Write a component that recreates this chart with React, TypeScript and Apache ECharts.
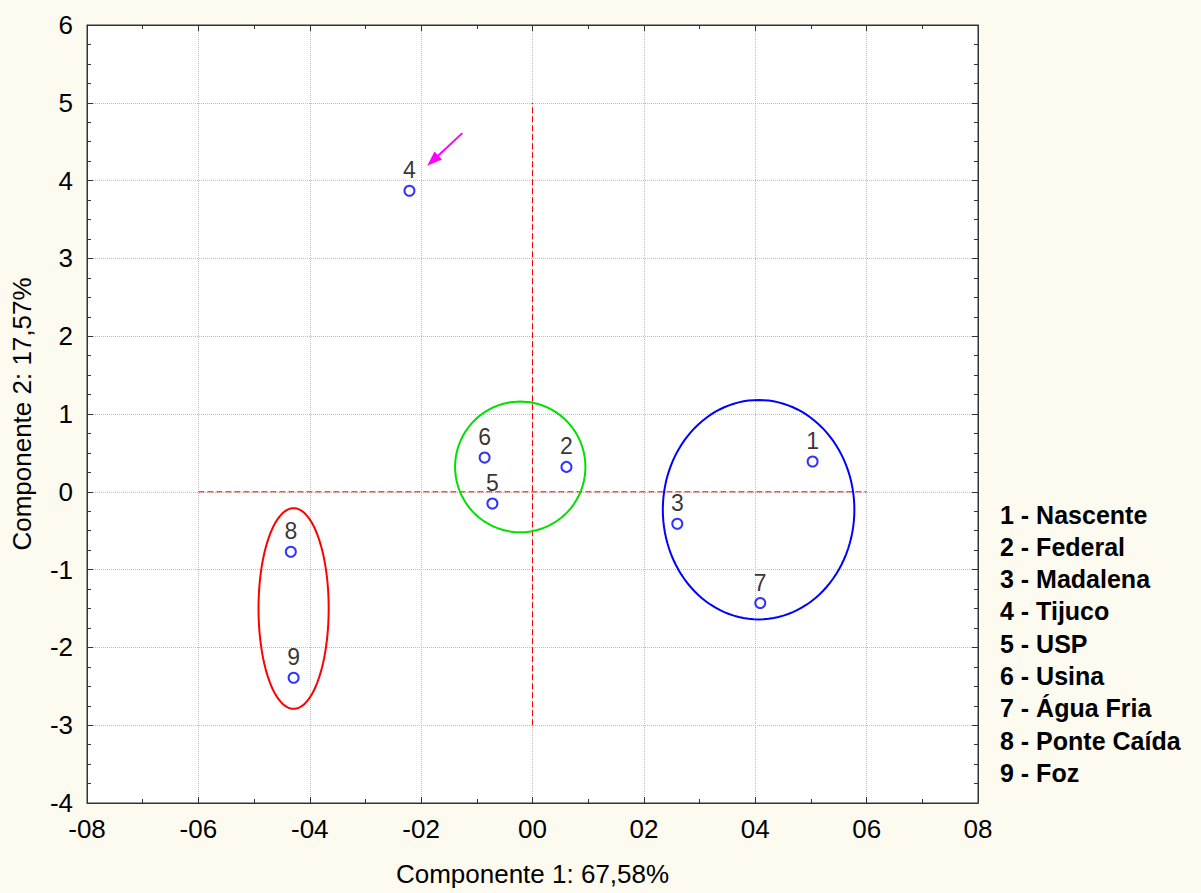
import React, { useEffect, useRef } from "react";
import * as echarts from "echarts";

// Site scores on the first two principal components
const siteIds = ["1", "2", "3", "4", "5", "6", "7", "8", "9"];
const siteNames = [
  "Nascente",
  "Federal",
  "Madalena",
  "Tijuco",
  "USP",
  "Usina",
  "Água Fria",
  "Ponte Caída",
  "Foz",
];
const comp1 = [5.03, 0.61, 2.6, -2.21, -0.72, -0.86, 4.09, -4.34, -4.29];
const comp2 = [0.39, 0.32, -0.41, 3.87, -0.15, 0.44, -1.43, -0.77, -2.39];

// Group ellipses: centre x, centre y, radius x, radius y
const groupCx = [-0.22, 4.06, -4.29];
const groupCy = [0.32, -0.23, -1.5];
const groupRx = [1.17, 1.72, 0.63];
const groupRy = [0.84, 1.41, 1.29];
const groupColors = ["#00e000", "#0000ff", "#ff0000"];

// Arrow pointing at site 4: start (x, y) -> end (x, y)
const arrowFrom = [-1.26, 4.61];
const arrowTo = [-1.89, 4.19];

// Reference axes through the origin
const hLine = [
  [-6, 0],
  [6, 0],
];
const vLine = [
  [0, -3],
  [0, 5],
];

const xTitle = "Componente 1: 67,58%";
const yTitle = "Componente 2: 17,57%";

const fmtX = (v: number) => {
  const a = Math.abs(Math.round(v));
  return (v < 0 ? "-" : "") + (a < 10 ? "0" + a : String(a));
};

const FONT = "'Liberation Sans', Arial, sans-serif";

export default function App() {
  const ref = useRef<HTMLDivElement>(null);

  useEffect(() => {
    if (!ref.current) return;
    const chart = echarts.init(ref.current, null, { renderer: "svg" });

    const baseX = {
      type: "value" as const,
      min: -8,
      max: 8,
      interval: 2,
      axisLine: { show: true, onZero: false, lineStyle: { color: "#333", width: 1 } },
      axisTick: { show: true, inside: true, length: 6, lineStyle: { color: "#333" } },
      minorTick: { show: true, splitNumber: 2, length: 4, lineStyle: { color: "#333" } },
    };
    const baseY = {
      type: "value" as const,
      min: -4,
      max: 6,
      interval: 1,
      axisLine: { show: true, onZero: false, lineStyle: { color: "#333", width: 1 } },
      axisTick: { show: true, inside: true, length: 6, lineStyle: { color: "#333" } },
      minorTick: { show: true, splitNumber: 4, length: 4, lineStyle: { color: "#333" } },
    };

    const legendItems = siteNames.map((n, i) => ({
      type: "text",
      left: 1000,
      top: 502 + i * 32.3,
      style: {
        text: `${siteIds[i]} - ${n}`,
        font: `bold 25px ${FONT}`,
        fill: "#000",
      },
    }));

    chart.setOption({
      animation: false,
      backgroundColor: "#fdfbf0",
      textStyle: { fontFamily: FONT },
      grid: {
        left: 87,
        top: 25,
        right: 223,
        bottom: 90,
        show: true,
        backgroundColor: "#ffffff",
        borderColor: "#333",
        borderWidth: 1,
      },
      xAxis: [
        {
          ...baseX,
          position: "bottom",
          name: xTitle,
          nameLocation: "middle",
          nameGap: 58,
          nameTextStyle: { fontSize: 26, color: "#000", fontFamily: FONT },
          axisLabel: { show: true, fontSize: 26, color: "#000", margin: 13, formatter: fmtX, fontFamily: FONT },
          splitLine: { show: true, lineStyle: { color: "#bdbdbd", type: "dotted", width: 1 } },
        },
        {
          ...baseX,
          position: "top",
          axisLabel: { show: false },
          splitLine: { show: false },
        },
      ],
      yAxis: [
        {
          ...baseY,
          position: "left",
          name: yTitle,
          nameLocation: "middle",
          nameGap: 52,
          nameTextStyle: { fontSize: 26, color: "#000", fontFamily: FONT },
          axisLabel: { show: true, fontSize: 26, color: "#000", margin: 14, fontFamily: FONT },
          splitLine: { show: true, lineStyle: { color: "#bdbdbd", type: "dotted", width: 1 } },
        },
        {
          ...baseY,
          position: "right",
          axisLabel: { show: false },
          splitLine: { show: false },
        },
      ],
      graphic: legendItems,
      series: [
        {
          type: "line",
          data: hLine,
          symbol: "none",
          silent: true,
          lineStyle: { color: "#ff0000", width: 1, type: [6, 3] },
          z: 2,
        },
        {
          type: "line",
          data: vLine,
          symbol: "none",
          silent: true,
          lineStyle: { color: "#ff0000", width: 1, type: [6, 3] },
          z: 2,
        },
        {
          type: "custom",
          silent: true,
          data: groupCx.map((cx, i) => [cx, groupCy[i], groupRx[i], groupRy[i]]),
          encode: { x: 0, y: 1 },
          renderItem: (params: any, api: any) => {
            const cx = api.value(0);
            const cy = api.value(1);
            const rx = api.value(2);
            const ry = api.value(3);
            const pts: number[][] = [];
            const n = 120;
            for (let k = 0; k <= n; k++) {
              const t = (k / n) * Math.PI * 2;
              pts.push(api.coord([cx + rx * Math.cos(t), cy + ry * Math.sin(t)]));
            }
            return {
              type: "polyline",
              shape: { points: pts },
              style: { stroke: groupColors[params.dataIndex], lineWidth: 2, fill: "none" },
            };
          },
          z: 3,
        },
        {
          type: "custom",
          silent: true,
          data: [[arrowFrom[0], arrowFrom[1], arrowTo[0], arrowTo[1]]],
          encode: { x: [0, 2], y: [1, 3] },
          renderItem: (_params: any, api: any) => {
            const p1 = api.coord([api.value(0), api.value(1)]);
            const p2 = api.coord([api.value(2), api.value(3)]);
            const dx = p2[0] - p1[0];
            const dy = p2[1] - p1[1];
            const len = Math.sqrt(dx * dx + dy * dy);
            const ux = dx / len;
            const uy = dy / len;
            const headLen = 15;
            const headW = 5.5;
            const bx = p2[0] - ux * headLen;
            const by = p2[1] - uy * headLen;
            return {
              type: "group",
              children: [
                {
                  type: "line",
                  shape: { x1: p1[0], y1: p1[1], x2: bx + ux * 2, y2: by + uy * 2 },
                  style: { stroke: "#ff00ff", lineWidth: 2 },
                },
                {
                  type: "polygon",
                  shape: {
                    points: [
                      [p2[0], p2[1]],
                      [bx - uy * headW, by + ux * headW],
                      [bx + uy * headW, by - ux * headW],
                    ],
                  },
                  style: { fill: "#ff00ff" },
                },
              ],
            };
          },
          z: 4,
        },
        {
          type: "scatter",
          data: comp1.map((x, i) => ({ value: [x, comp2[i]], name: siteIds[i] })),
          symbol: "circle",
          symbolSize: 10,
          itemStyle: { color: "#ffffff", borderColor: "#0000ff", borderWidth: 2 },
          label: {
            show: true,
            position: "top",
            distance: 3,
            formatter: (p: any) => p.name,
            fontSize: 23,
            color: "#000",
            fontFamily: FONT,
          },
          z: 5,
        },
      ],
    });

    return () => chart.dispose();
  }, []);

  return (
    <div
      ref={ref}
      style={{ position: "absolute", left: 0, top: 0, width: 1201, height: 893 }}
    />
  );
}
